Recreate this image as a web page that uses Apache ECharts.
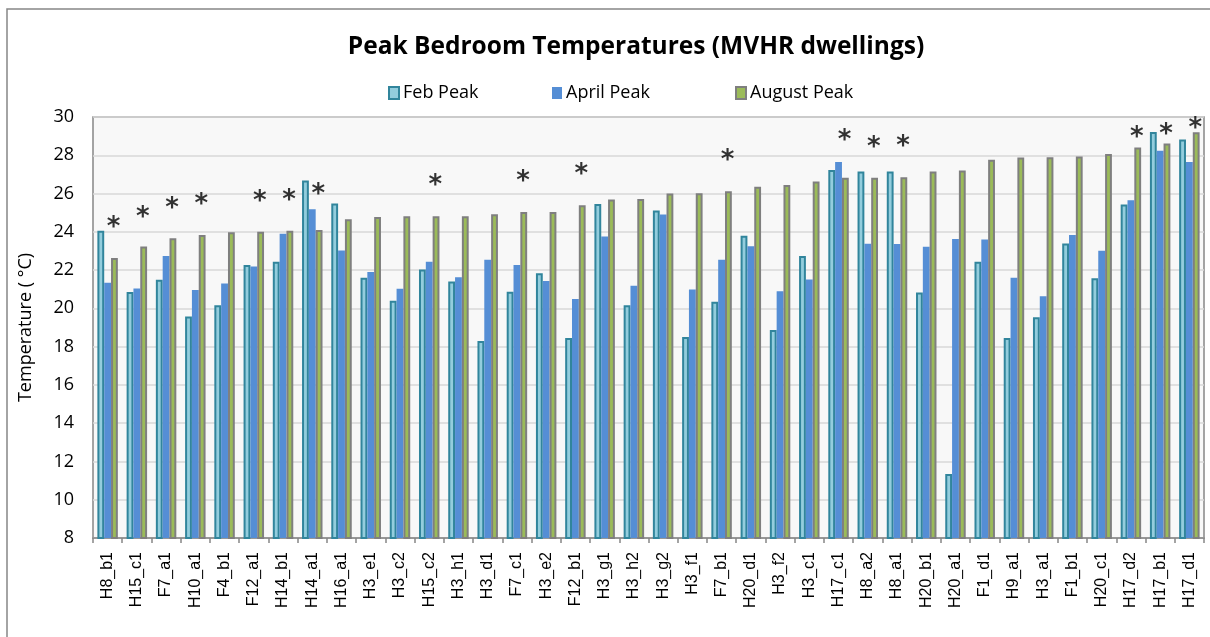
<!DOCTYPE html>
<html>
<head>
<meta charset="utf-8">
<script src="https://cdn.jsdelivr.net/npm/echarts@6/dist/echarts.min.js"></script>
<style>
  html, body { margin: 0; padding: 0; background: #fff; }
  #main { width: 1210px; height: 637px; }
</style>
</head>
<body>
<div id="main"></div>
<script>
// dwellings / rooms
var categories = ['H8_b1', 'H15_c1', 'F7_a1', 'H10_a1', 'F4_b1', 'F12_a1', 'H14_b1', 'H14_a1', 'H16_a1', 'H3_e1',
  'H3_c2', 'H15_c2', 'H3_h1', 'H3_d1', 'F7_c1', 'H3_e2', 'F12_b1', 'H3_g1', 'H3_h2', 'H3_g2',
  'H3_f1', 'F7_b1', 'H20_d1', 'H3_f2', 'H3_c1', 'H17_c1', 'H8_a2', 'H8_a1', 'H20_b1', 'H20_a1',
  'F1_d1', 'H9_a1', 'H3_a1', 'F1_b1', 'H20_c1', 'H17_d2', 'H17_b1', 'H17_d1'];

var febPeak = [24.05, 20.85, 21.5, 19.57, 20.16, 22.26, 22.43, 26.68, 25.48, 21.6,
  20.4, 22.03, 21.41, 18.3, 20.87, 21.84, 18.45, 25.46, 20.16, 25.11,
  18.5, 20.35, 23.79, 18.87, 22.73, 27.23, 27.15, 27.15, 20.83, 11.34,
  22.43, 18.45, 19.53, 23.39, 21.58, 25.43, 29.22, 28.82];

var aprilPeak = [21.34, 21.04, 22.73, 20.96, 21.3, 22.19, 23.9, 25.18, 23.03, 21.9,
  21.03, 22.43, 21.62, 22.54, 22.26, 21.43, 20.49, 23.76, 21.18, 24.9,
  20.99, 22.54, 23.25, 20.89, 21.51, 27.65, 23.37, 23.36, 23.22, 23.63,
  23.6, 21.6, 20.63, 23.84, 23.01, 25.65, 28.23, 27.65];

var augustPeak = [22.63, 23.23, 23.67, 23.83, 23.98, 24.0, 24.05, 24.1, 24.66, 24.78,
  24.82, 24.82, 24.82, 24.92, 25.03, 25.03, 25.39, 25.69, 25.71, 26.0,
  26.02, 26.12, 26.35, 26.45, 26.63, 26.83, 26.83, 26.85, 27.15, 27.2,
  27.77, 27.88, 27.9, 27.93, 28.07, 28.4, 28.61, 29.2];

// asterisk markers (height where the * sits), '-' = none
var stars = [24.48, 25.04, 25.5, 25.72, '-', 25.86, 25.91, 26.24, '-', '-',
  '-', 26.67, '-', '-', 26.9, '-', 27.27, '-', '-', '-',
  '-', 28.0, '-', '-', '-', 29.04, 28.69, 28.73, '-', '-',
  '-', '-', '-', '-', '-', 29.18, 29.36, 29.69];

var yTicks = { min: 8, max: 30, interval: 2 };

var chart = echarts.init(document.getElementById('main'), null, { renderer: 'canvas' });

var baseFont = 'Open Sans';

var option = {
  animation: false,
  backgroundColor: '#ffffff',
  graphic: [{
    type: 'rect',
    shape: { x: 7, y: 9, width: 1400, height: 800 },
    style: { fill: 'none', stroke: '#868686', lineWidth: 1.5 },
    silent: true
  }],
  title: {
    text: 'Peak Bedroom Temperatures (MVHR dwellings)',
    left: 631,
    top: 30,
    textAlign: 'center',
    textStyle: { fontFamily: baseFont, fontWeight: 'bold', fontSize: 24.5, color: '#000' }
  },
  legend: [
    { data: ['Feb Peak'], left: 383, top: 79 },
    { data: ['April Peak'], left: 547, top: 79 },
    { data: ['August Peak'], left: 730, top: 79 }
  ].map(function (l) {
    l.itemWidth = 10;
    l.itemHeight = 12;
    l.itemGap = 4;
    l.icon = 'rect';
    l.textStyle = { fontFamily: baseFont, fontSize: 18, color: '#000', padding: [0, 0, 0, -1] };
    return l;
  }),
  grid: {
    left: 93,
    right: 6,
    top: 117,
    bottom: 99,
    show: true,
    backgroundColor: '#F8F8F8',
    borderColor: '#868686',
    borderWidth: 1.5
  },
  xAxis: {
    type: 'category',
    data: categories,
    axisLine: { show: true, lineStyle: { color: '#868686', width: 1.5 } },
    axisTick: { show: true, length: 5, lineStyle: { color: '#868686', width: 1.5 } },
    axisLabel: {
      rotate: 90,
      interval: 0,
      margin: 14,
      fontFamily: 'Liberation Sans',
      fontSize: 16,
      color: '#000'
    },
    splitLine: { show: false }
  },
  yAxis: {
    type: 'value',
    min: yTicks.min,
    max: yTicks.max,
    interval: yTicks.interval,
    name: 'Temperature ( °C)',
    nameLocation: 'middle',
    nameGap: 58,
    nameRotate: 90,
    nameTextStyle: { fontFamily: baseFont, fontSize: 18, color: '#000' },
    axisLine: { show: false },
    axisTick: { show: false },
    axisLabel: { fontFamily: baseFont, fontSize: 18, color: '#000', margin: 19 },
    splitLine: { show: true, lineStyle: { color: '#D9D9D9', width: 1.5 } }
  },
  series: [
    {
      name: 'Feb Peak',
      type: 'bar',
      data: febPeak,
      barGap: '0%',
      barCategoryGap: '30%',
      itemStyle: { color: '#93CDDD', borderColor: '#31859C', borderWidth: 2 }
    },
    {
      name: 'April Peak',
      type: 'bar',
      data: aprilPeak,
      barGap: '0%',
      barCategoryGap: '30%',
      itemStyle: { color: '#558ED5', borderWidth: 0 }
    },
    {
      name: 'August Peak',
      type: 'bar',
      data: augustPeak,
      barGap: '0%',
      barCategoryGap: '30%',
      itemStyle: { color: '#9BBB59', borderColor: '#7F7F7F', borderWidth: 2 }
    },
    {
      name: 'stars',
      type: 'scatter',
      data: stars,
      symbolSize: 0,
      clip: false,
      z: 5,
      label: {
        show: true,
        position: 'inside',
        formatter: '*',
        offset: [6, 6],
        fontFamily: 'DejaVu Sans',
        fontWeight: 'bold',
        fontSize: 26,
        color: '#000',
        textBorderWidth: 0
      }
    }
  ]
};

chart.setOption(option);
</script>
</body>
</html>
